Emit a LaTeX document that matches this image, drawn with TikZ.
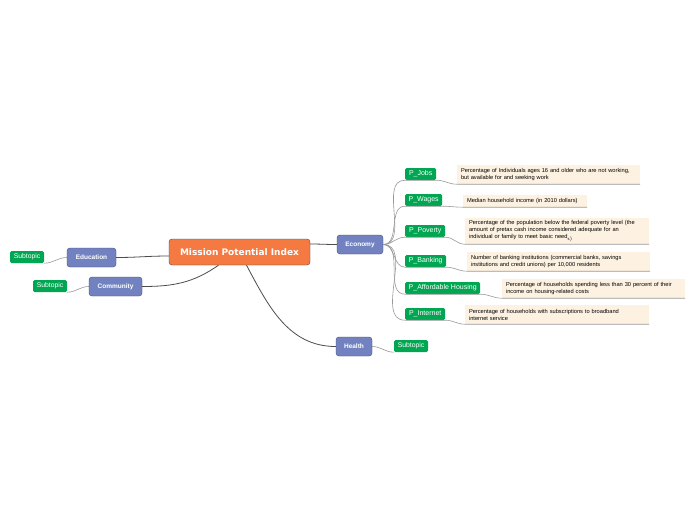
\documentclass[tikz,border=0pt]{standalone}
\usepackage{fontspec}
\setmainfont{Liberation Sans}
\newfontfamily\titlefont{DejaVu Sans}
\usetikzlibrary{calc}
\definecolor{mporange}{HTML}{F47A42}
\definecolor{mpblue}{HTML}{7282C0}
\definecolor{mpgreen}{HTML}{00A651}
\definecolor{notefill}{HTML}{FDF2E1}
\begin{document}
\begin{tikzpicture}[x=1pt,y=-1pt,
  central/.style={draw=black!70,fill=mporange,rounded corners=3pt,text=white,
    font=\titlefont\bfseries\fontsize{9}{10}\selectfont,minimum width=141pt,minimum height=26pt,inner sep=0pt},
  topic/.style={draw=mpblue!60!black,fill=mpblue,rounded corners=3pt,text=white,
    font=\bfseries\fontsize{6.5}{7}\selectfont,minimum height=19pt,inner sep=0pt},
  leaf/.style={fill=mpgreen,rounded corners=1.5pt,text=white,
    font=\fontsize{7}{8}\selectfont,minimum height=12pt,inner sep=0pt},
  sub/.style={leaf,font=\fontsize{6.8}{7}\selectfont,minimum width=34pt},
  note/.style={fill=notefill,inner xsep=4pt,inner ysep=0pt,align=left,
    font=\fontsize{5.7}{7}\selectfont},
  bigline/.style={draw=black!70,line width=0.8pt},
  smallline/.style={draw=black!40,line width=0.6pt}]
\useasboundingbox[fill=white] (0,0) rectangle (696,520);

% main topics
\node[central] (main) at (239.5,252) {Mission Potential Index};
\node[topic,minimum width=46pt] (economy) at (360,244.5) {Economy};
\node[topic,minimum width=49pt] (education) at (91.5,257.5) {Education};
\node[topic,minimum width=53pt] (community) at (115.5,286.5) {Community};
\node[topic,minimum width=36pt] (health) at (354,346.5) {Health};

% subtopics
\node[sub] (subedu) at (27,257) {Subtopic};
\node[sub] (subcom) at (50,286) {Subtopic};
\node[sub] (subhealth) at (411,346) {Subtopic};

% economy indicators
\node[leaf,minimum width=31pt,anchor=west] (jobs) at (405,174) {P\_Jobs};
\node[leaf,minimum width=37pt,anchor=west] (wages) at (405,200) {P\_Wages};
\node[leaf,minimum width=40pt,anchor=west] (poverty) at (405,231) {P\_Poverty};
\node[leaf,minimum width=41pt,anchor=west] (banking) at (405,261) {P\_Banking};
\node[leaf,minimum width=75pt,anchor=west] (housing) at (405,288) {P\_Affordable Housing};
\node[leaf,minimum width=40pt,anchor=west] (internet) at (405,314) {P\_Internet};

% notes
\node[note,text width=175pt,minimum height=19pt] (jobsnote) at (548.5,174.5)
  {Percentage of Individuals ages 16 and older who are not working,\\but available for and seeking work};
\node[note,text width=116pt,minimum height=12pt] (wagesnote) at (525,201)
  {Median household income (in 2010 dollars)};
\node[note,text width=176pt,minimum height=26pt] (povertynote) at (557,231)
  {Percentage of the population below the federal poverty level (the\\amount of pretax cash income considered adequate for an\\individual or family to meet basic need$_{\mathrm{s)}}$};
\node[note,text width=175pt,minimum height=19pt] (bankingnote) at (558.5,261.5)
  {Number of banking institutions (commercial banks, savings\\institutions and credit unions) per 10,000 residents};
\node[note,text width=175pt,minimum height=19pt] (housingnote) at (593.5,288.5)
  {Percentage of households spending less than 30 percent of their\\income on housing-related costs};
\node[note,text width=176pt,minimum height=19pt] (internetnote) at (557,314.5)
  {Percentage of households with subscriptions to broadband\\internet service};

% connectors from the centre
\draw[bigline] ($(main.east)+(0,-8)$) to[out=0,in=180] (economy.west);
\draw[bigline] ($(main.west)+(0,4)$) to[out=180,in=0] (education.east);
\draw[bigline] ($(main.south)+(-21,0)$) to[out=-145,in=0] (community.east);
\draw[bigline] ($(main.south)+(7,0)$) to[out=-62,in=180] (health.west);

% subtopic connectors
\draw[smallline] (education.west) to[out=180,in=0] (subedu.south east);
\draw[smallline] (community.west) to[out=180,in=0] (subcom.south east);
\draw[smallline] (health.east) to[out=0,in=180] (subhealth.south west);

% economy to indicators to notes
\foreach \ind in {jobs,wages,poverty,banking,housing,internet}{
  \draw[smallline] (economy.east) to[out=0,in=180] (\ind.south west) -- (\ind.south east);
  \draw[smallline] (\ind.south east) to[out=0,in=180] (\ind note.south west) -- (\ind note.south east);
}
\end{tikzpicture}
\end{document}
